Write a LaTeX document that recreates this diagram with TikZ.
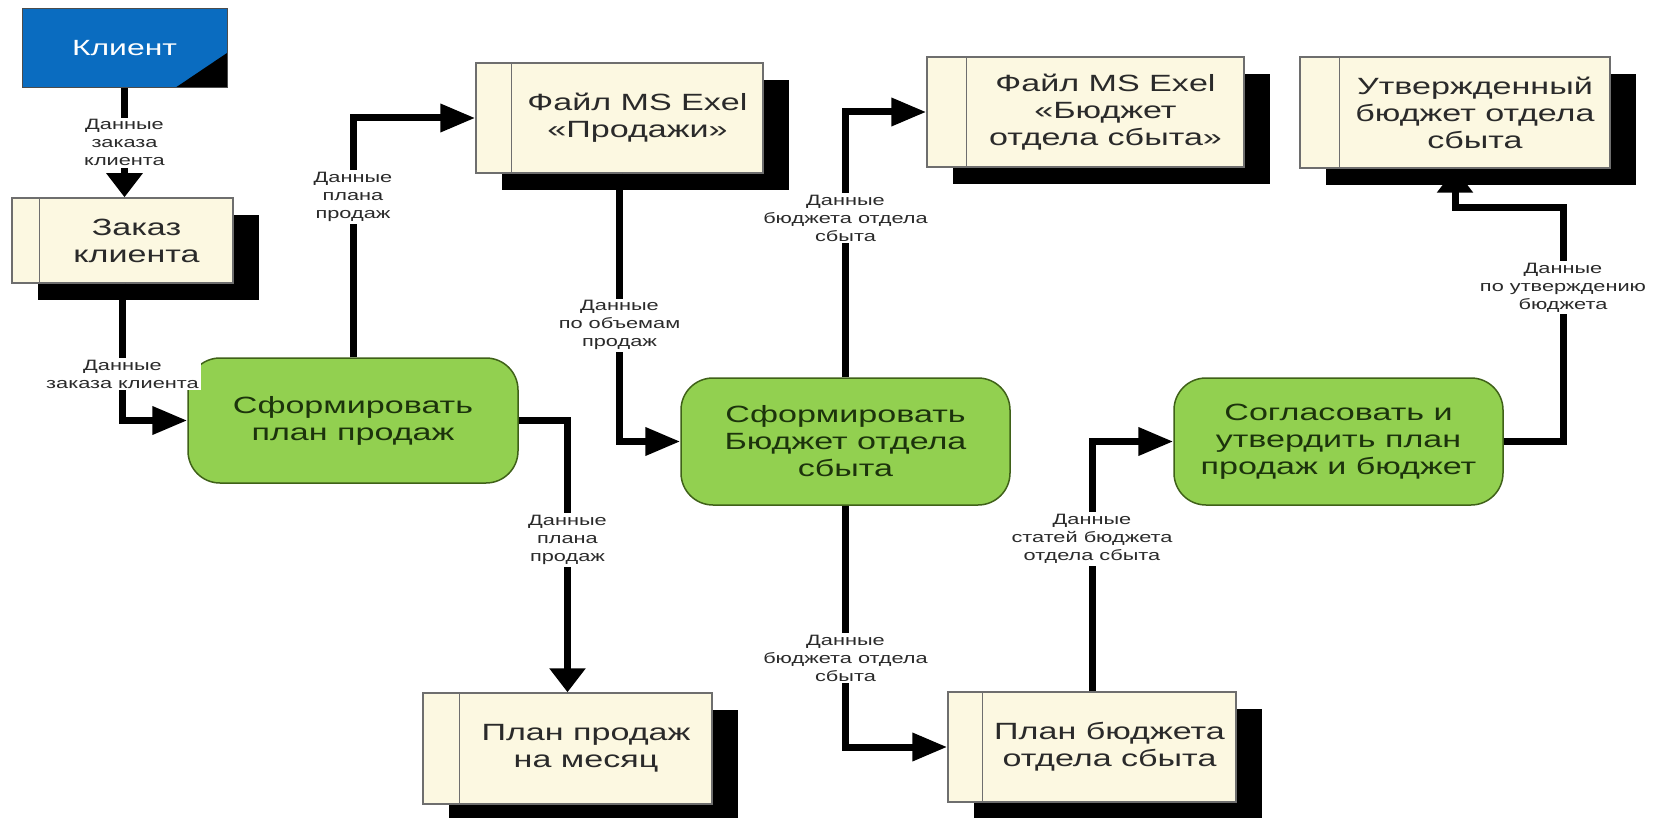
\documentclass[tikz,border=0pt]{standalone}
\usepackage{fontspec}
\setmainfont{Liberation Sans}[FakeStretch=1.45]
\usetikzlibrary{arrows.meta,calc}
\definecolor{cream}{HTML}{FCF8E1}
\definecolor{boxline}{HTML}{6E6E6E}
\definecolor{greenfill}{HTML}{92D050}
\definecolor{greenline}{HTML}{3F6118}
\definecolor{clientblue}{HTML}{0A6CC0}
\definecolor{txtdark}{HTML}{2A2A2A}
\definecolor{txtgreen}{HTML}{1C330C}
\newcommand\mystore[7]{%
  \fill[black] ({#2+26},{#3+17}) rectangle ({#4+26},{#5+17});
  \node[store, minimum width={(#4-#2)*1pt}, minimum height={(#5-#3)*1pt}] (#1) at ({(#2+#4)/2},{(#3+#5)/2}) {};
  \draw[boxline, line width=1.5pt] ([xshift=#6pt]#1.north west) -- ([xshift=#6pt]#1.south west);
  \node[boxtext] (#1-t) at ([xshift={#6/2*1pt}]#1.center) {#7};
}
\begin{document}
\begin{tikzpicture}[x=1pt,y=-1pt,
  store/.style={draw=boxline, line width=1.5pt, fill=cream, inner sep=0pt},
  proc/.style={draw=greenline, line width=1.5pt, fill=greenfill, rounded corners=32pt, inner sep=0pt,
    minimum width=329pt, minimum height=127pt, align=center, text=txtgreen, font=\fontsize{23.5}{27}\selectfont},
  boxtext/.style={align=center, text=txtdark, font=\fontsize{23.5}{27}\selectfont, inner sep=0pt},
  lbl/.style={fill=white, align=center, text=txtdark, font=\fontsize{15}{18}\selectfont, inner sep=2pt},
  flow/.style={line width=7pt, draw=black},
  harrow/.style={-{Triangle[length=35pt,width=27pt]}},
  varrow/.style={-{Triangle[length=24pt,width=35pt]}},
]
\useasboundingbox[fill=white] (0,0) rectangle (1654,818);

% external entity
\node[draw=black!70, line width=1pt, fill=clientblue, minimum width=205pt, minimum height=79pt, inner sep=0pt,
  text=white, font=\fontsize{22}{26}\selectfont,
  path picture={\fill[black] ([xshift=-52pt]path picture bounding box.south east) -- (path picture bounding box.south east) -- ([yshift=35pt]path picture bounding box.south east) -- cycle;}]
  (client) at (124.5,48.5) {Клиент};

% data stores
\mystore{zakaz}{12}{198}{233}{283}{28}{Заказ\\клиента}
\mystore{fileS}{476}{63}{763}{173}{36}{Файл MS Exel\\«Продажи»}
\mystore{fileB}{927}{57}{1244}{167}{40}{Файл MS Exel\\«Бюджет\\отдела сбыта»}
\mystore{approved}{1300}{57}{1610}{168}{40}{Утвержденный\\бюджет отдела\\сбыта}
\mystore{planS}{423}{693}{712}{804}{37}{План продаж\\на месяц}
\mystore{planB}{948}{692}{1236}{802}{35}{План бюджета\\отдела сбыта}

% processes
\node[proc, minimum width=330pt, minimum height=125pt] (form1) at (353,420.5) {Сформировать\\план продаж};
\node[proc] (budget) at (845.5,441.5) {Сформировать\\Бюджет отдела\\сбыта};
\node[proc] (agree) at (1338.5,441.5) {Согласовать и\\утвердить план\\продаж и бюджет};

\coordinate (bend) at (1563,208);

% flows
\draw[flow, varrow] (client.south) -- node[lbl]{Данные\\заказа\\клиента} (client.south |- zakaz.north);
\draw[flow, harrow] (zakaz.south) |- node[lbl, pos=0.33]{Данные\\заказа клиента} (form1.west);
\draw[flow, harrow] (form1.north) |- node[lbl, pos=0.335]{Данные\\плана\\продаж} (fileS.west);
\draw[flow, varrow] (form1.east) -| node[lbl, pos=0.72]{Данные\\плана\\продаж} (planS.north);
\draw[flow, harrow] (fileS.south) |- node[lbl, pos=0.283]{Данные\\по объемам\\продаж} (budget.west);
\draw[flow, harrow] (budget.north) |- node[lbl, pos=0.30]{Данные\\бюджета отдела\\сбыта} (fileB.west);
\draw[flow, harrow] (budget.south) |- node[lbl, pos=0.316]{Данные\\бюджета отдела\\сбыта} (planB.west);
\draw[flow, harrow] (planB.north) |- node[lbl, pos=0.305]{Данные\\статей бюджета\\отдела сбыта} (agree.west);
\draw[flow, varrow] (agree.east) -| node[lbl, pos=0.83]{Данные\\по утверждению\\бюджета} (bend) -| (approved.south);
\end{tikzpicture}
\end{document}
